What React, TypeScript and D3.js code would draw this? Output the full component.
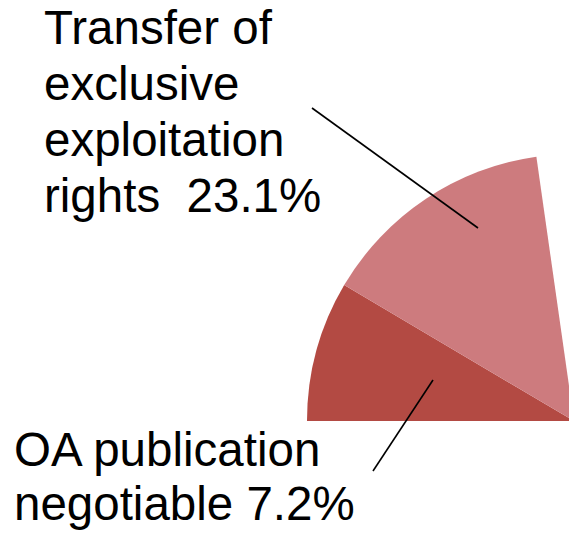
import React from "react";
import * as d3 from "d3";

// Slice order as drawn (clockwise from 9 o'clock)
const categories = [
  "OA publication negotiable",
  "Transfer of exclusive exploitation rights",
  "Other (outside crop)",
];
// Label percentages as printed on the chart
const labelPercents = ["7.2%", "23.1%", ""];
// Angular share of the full circle (percent of 360°)
const sliceShares = [8.5, 14.25, 77.25];
const sliceColors = ["#b34a43", "#cd7b7e", "none"];
const visible = [true, true, false];

const labelLinesText = [
  ["OA publication", "negotiable " + labelPercents[0]],
  ["Transfer of", "exclusive", "exploitation", "rights  " + labelPercents[1]],
];

const W = 569;
const H = 535;
const CX = 574;
const CY = 421;
const R = 267;

export default function App() {
  const pie = d3
    .pie<number>()
    .sort(null)
    .value((d) => d)
    .startAngle(1.5 * Math.PI)
    .endAngle(3.5 * Math.PI);
  const arcs = pie(sliceShares);
  const arc = d3.arc<d3.PieArcDatum<number>>().innerRadius(0).outerRadius(R);

  // Leader line layout (label annotation positions)
  const leaders = [
    { x1: 373, y1: 471, x2: 433, y2: 380 },
    { x1: 312, y1: 108, x2: 478, y2: 228 },
  ];
  const labelPos = [
    { x: 14, y: 466, dy: 54 },
    { x: 44, y: 44, dy: 56 },
  ];

  return (
    <svg
      width={W}
      height={H}
      style={{ position: "absolute", left: 0, top: 0, background: "#fff" }}
    >
      <g transform={`translate(${CX},${CY})`}>
        {arcs.map((a, i) =>
          visible[i] ? (
            <path key={categories[i]} d={arc(a) || ""} fill={sliceColors[i]} />
          ) : null
        )}
      </g>
      {leaders.map((l, i) => (
        <line
          key={i}
          x1={l.x1}
          y1={l.y1}
          x2={l.x2}
          y2={l.y2}
          stroke="#000"
          strokeWidth={1.6}
        />
      ))}
      {labelLinesText.map((lines, i) => (
        <text
          key={i}
          fontFamily="'Liberation Sans', Arial, sans-serif"
          fontSize={47.5}
          fill="#000"
          style={{ whiteSpace: "pre" }}
        >
          {lines.map((t, j) => (
            <tspan key={j} x={labelPos[i].x} y={labelPos[i].y + j * labelPos[i].dy}>
              {t}
            </tspan>
          ))}
        </text>
      ))}
    </svg>
  );
}
